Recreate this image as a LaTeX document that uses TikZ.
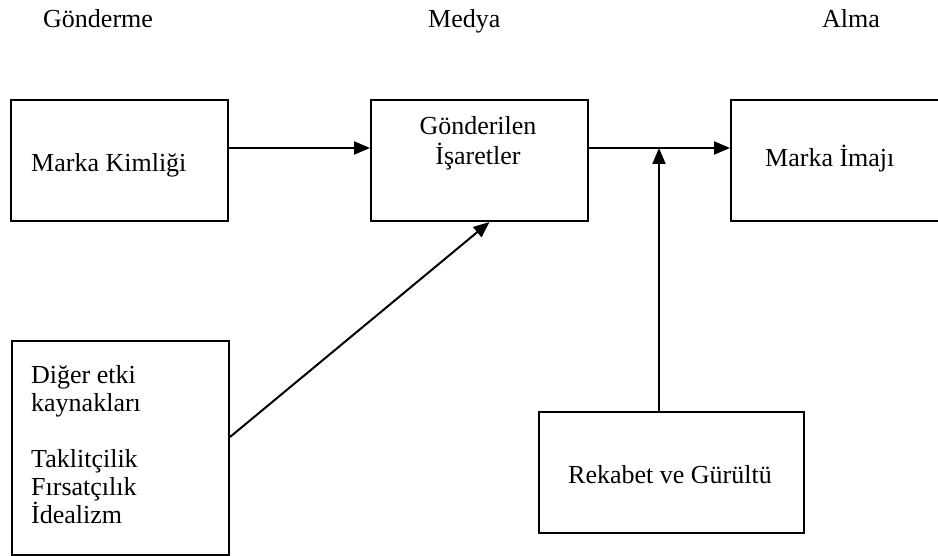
\documentclass[tikz,border=0pt]{standalone}
\usepackage{fontspec}
\setmainfont{Liberation Serif}
\usetikzlibrary{arrows.meta,calc}
\begin{document}
\begin{tikzpicture}[x=1pt,y=-1pt,
  box/.style={draw,line width=2pt,rectangle,inner sep=0pt,anchor=north west},
  lbl/.style={inner sep=0pt,font=\fontsize{26}{29}\selectfont},
  conn/.style={line width=2pt},
  arr/.style={conn,-{Triangle[length=16pt,width=13pt]}}]
\useasboundingbox (0,0) rectangle (938,556);
\clip (0,0) rectangle (938,556);

% column headings
\node[lbl,anchor=base west] (hsend) at (43,28) {Gönderme};
\node[lbl,anchor=base west] (hmedia) at (428,28) {Medya};
\node[lbl,anchor=base west] (hrecv) at (822,28) {Alma};

% boxes
\node[box,minimum width=217pt,minimum height=121pt] (identity) at (10,99) {};
\node[box,minimum width=217pt,minimum height=121pt] (signals) at (370,99) {};
\node[box,minimum width=230pt,minimum height=121pt] (image) at (730,99) {};
\node[box,minimum width=217pt,minimum height=214pt] (other) at (11,340) {};
\node[box,minimum width=265pt,minimum height=121pt] (noise) at (538,411) {};

% box texts (multi-line nodes are placed by the baseline of their last line)
\node[lbl,anchor=base west] (tidentity) at (31,172) {Marka Kimliği};
\node[lbl,anchor=base,align=center,font=\fontsize{26}{30}\selectfont] (tsignals) at (478,165) {Gönderilen\\İşaretler};
\node[lbl,anchor=base west] (timage) at (765,167) {Marka İmajı};
\node[lbl,anchor=base west,align=left,font=\fontsize{26}{28}\selectfont] (tother) at (31,523)
  {Diğer etki\\kaynakları\\[28pt]Taklitçilik\\Fırsatçılık\\İdealizm};
\node[lbl,anchor=base] (tnoise) at (670,483) {Rekabet ve Gürültü};

% connectors
\coordinate (join) at (659,148);
\draw[arr] (identity.east |- join) -- (signals.west |- join);
\draw[arr] (signals.east |- join) -- (image.west |- join);
\draw[arr] (noise.north -| join) -- (join);
\draw[arr] ($(other.east)+(0,-11)$) -- ($(signals.south)+(10,0)$);
\end{tikzpicture}
\end{document}
